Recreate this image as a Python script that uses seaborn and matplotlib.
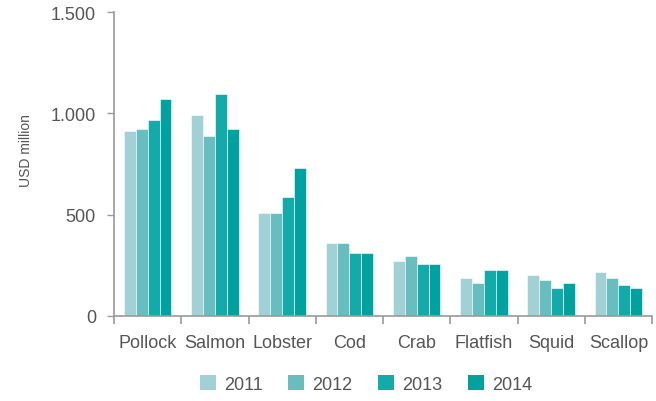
import matplotlib
matplotlib.use("Agg")
import matplotlib.pyplot as plt
from matplotlib.ticker import FuncFormatter, FixedLocator
import seaborn as sns
import pandas as pd

species = ["Pollock", "Salmon", "Lobster", "Cod", "Crab", "Flatfish", "Squid", "Scallop"]
years = ["2011", "2012", "2013", "2014"]
v2011 = [913, 992, 506, 360, 269, 189, 202, 215]
v2012 = [925, 887, 506, 360, 294, 163, 176, 189]
v2013 = [965, 1095, 585, 309, 255, 228, 136, 151]
v2014 = [1069, 925, 728, 309, 255, 228, 163, 136]
colors = ["#a1d1d4", "#68bdbe", "#15aaaa", "#00a19f"]

rows = []
for yr, vals in zip(years, [v2011, v2012, v2013, v2014]):
    for sp, v in zip(species, vals):
        rows.append({"species": sp, "year": yr, "value": v})
df = pd.DataFrame(rows)

sns.set_theme(style="white")
plt.rcParams["font.family"] = ["Liberation Sans Narrow", "Liberation Sans", "DejaVu Sans"]
text_color = "#555555"
axis_color = "#9a9a9a"

fig = plt.figure(figsize=(6.56, 4.02), dpi=100)
ax = fig.add_axes([114 / 656, 1 - 317 / 402, 538 / 656, 304 / 402])

sns.barplot(data=df, x="species", y="value", hue="year", palette=colors,
            width=0.71, gap=0, saturation=1, ax=ax, edgecolor="white", linewidth=0.4)

ax.set_ylim(0, 1500)
ax.set_xlim(-0.5, len(species) - 0.5)
ax.set_yticks([0, 500, 1000, 1500])
ax.yaxis.set_major_formatter(FuncFormatter(lambda v, p: f"{int(v):,}".replace(",", ".")))
ax.set_xlabel("")
ax.set_ylabel("USD million", color=text_color, fontsize=10)
ax.yaxis.set_label_coords(-0.15, 0.546)

for s in ["top", "right"]:
    ax.spines[s].set_visible(False)
for s in ["left", "bottom"]:
    ax.spines[s].set_color(axis_color)
    ax.spines[s].set_linewidth(1.2)

ax.tick_params(axis="y", which="major", left=True, length=5, width=1, color=axis_color,
               labelsize=13, labelcolor=text_color, pad=8)
ax.tick_params(axis="x", which="major", bottom=False, labelsize=13, labelcolor=text_color, pad=7)
ax.xaxis.set_minor_locator(FixedLocator([i - 0.5 for i in range(len(species) + 1)]))
ax.tick_params(axis="x", which="minor", bottom=True, length=6, width=1.2, color=axis_color)

leg = ax.legend(loc="center", bbox_to_anchor=(366 / 656, 17 / 402), bbox_transform=fig.transFigure,
                ncol=4, frameon=False, fontsize=13, handlelength=0.9, handleheight=0.9,
                columnspacing=1.4, handletextpad=0.45)
for t in leg.get_texts():
    t.set_color(text_color)
for h in leg.legend_handles:
    h.set_edgecolor("none")

fig.savefig("out.png", dpi=100)
